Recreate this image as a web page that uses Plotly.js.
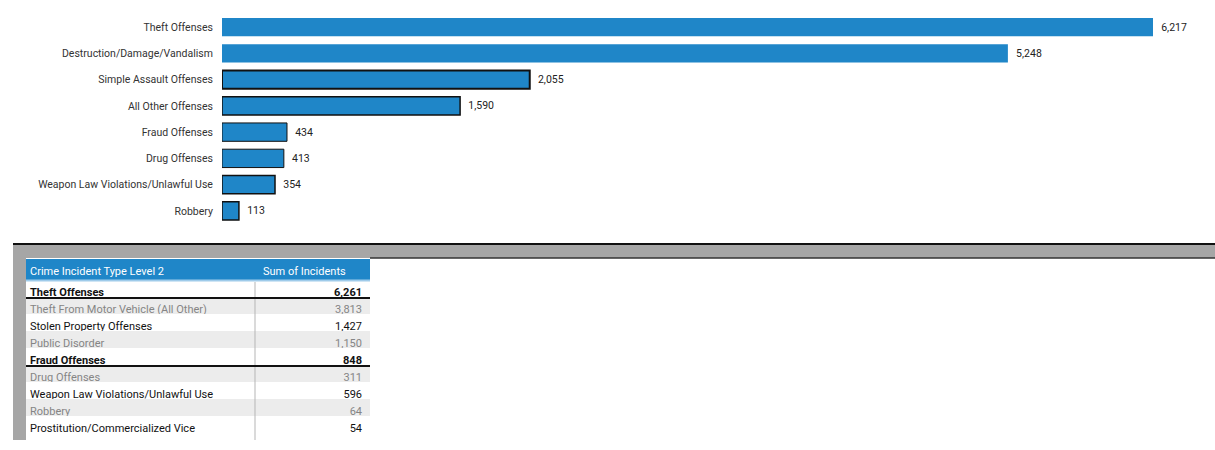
<!DOCTYPE html>
<html><head><meta charset="utf-8">
<script src="https://cdn.plot.ly/plotly-3.0.1.min.js"></script>
<style>html,body{margin:0;padding:0;background:#fff}#chart{width:1215px;height:450px}</style>
</head><body><div id="chart"></div>
<script>
// ---- data ----
const categories = [
  "Theft Offenses",
  "Destruction/Damage/Vandalism",
  "Simple Assault Offenses",
  "All Other Offenses",
  "Fraud Offenses",
  "Drug Offenses",
  "Weapon Law Violations/Unlawful Use",
  "Robbery"
];
const barValues = [6217, 5248, 2055, 1590, 434, 413, 354, 113];

const tableHeader = ["Crime Incident Type Level 2", "Sum of Incidents"];
const tableTypes = [
  "Theft Offenses",
  "Theft From Motor Vehicle (All Other)",
  "Stolen Property Offenses",
  "Public Disorder",
  "Fraud Offenses",
  "Drug Offenses",
  "Weapon Law Violations/Unlawful Use",
  "Robbery",
  "Prostitution/Commercialized Vice"
];
const tableValues = [6261, 3813, 1427, 1150, 848, 311, 596, 64, 54];
const tableGroupRows = [true, false, false, false, true, false, false, false, false];
const tableDarkText = [true, false, true, false, true, false, true, false, true];

// ---- helpers ----
const W = 1215, H = 450;
const py = p => 1 - p / H;
const px = p => p / W;
const fmt = v => v.toLocaleString('en-US');

const BLUE = '#1f86c8';
const FONT = 'Roboto, "Open Sans", sans-serif';

// bar trace
const barTrace = {
  type: 'bar',
  orientation: 'h',
  x: barValues,
  y: categories,
  marker: {
    color: BLUE,
    line: { color: '#111', width: [0, 0, 2, 1.5, 1, 1, 1.5, 1.5] }
  },
  text: barValues.map(v => '\u00a0\u00a0' + fmt(v)),
  textposition: 'outside',
  cliponaxis: false,
  textfont: { family: FONT, size: 10.5, color: '#222' },
  hoverinfo: 'skip',
  xaxis: 'x', yaxis: 'y'
};

// table trace
const TABLE_L = 22, TABLE_R = 370;
const HEADER_TOP = 259, HEADER_H = 21, ROW_H = 17;
const tableBottom = HEADER_TOP + HEADER_H + ROW_H * tableTypes.length + 4;
const rowFill = tableTypes.map((_, i) => i % 2 === 1 ? '#ececec' : '#ffffff');
const rowFont = tableDarkText.map(d => d ? '#111' : '#858585');
const rowWeight = tableGroupRows.map(g => g ? 'bold' : 'normal');
const tableTrace = {
  type: 'table',
  domain: { x: [px(TABLE_L), px(TABLE_R)], y: [py(tableBottom), py(HEADER_TOP)] },
  columnwidth: [233, 115],
  header: {
    values: tableHeader,
    align: ['left', 'left'],
    height: HEADER_H,
    fill: { color: BLUE },
    line: { color: BLUE, width: 0 },
    font: { family: FONT, size: 11, color: '#fff' }
  },
  cells: {
    values: [tableTypes, tableValues.map(fmt)],
    align: ['left', 'right'],
    height: ROW_H,
    fill: { color: [rowFill, rowFill] },
    line: { color: 'rgba(0,0,0,0)', width: 0 },
    font: { family: FONT, size: 11, color: [rowFont, rowFont], weight: [rowWeight, rowWeight] }
  }
};

// decorative shapes (separator band, table rules)
const shapes = [
  { type: 'rect', xref: 'paper', yref: 'paper', x0: px(13), x1: 1, y0: py(258), y1: py(244), fillcolor: '#a6a6a6', line: { width: 0 }, layer: 'below' },
  { type: 'rect', xref: 'paper', yref: 'paper', x0: px(13), x1: px(26), y0: py(440), y1: py(258), fillcolor: '#a6a6a6', line: { width: 0 }, layer: 'above' },
  { type: 'line', xref: 'paper', yref: 'paper', x0: px(13), x1: 1, y0: py(244), y1: py(244), line: { color: '#111', width: 2 } },
  { type: 'line', xref: 'paper', yref: 'paper', x0: px(370), x1: 1, y0: py(258), y1: py(258), line: { color: '#333', width: 1.5 } },
  { type: 'line', xref: 'paper', yref: 'paper', x0: px(26), x1: px(TABLE_R), y0: py(HEADER_TOP + HEADER_H + 0.5), y1: py(HEADER_TOP + HEADER_H + 0.5), line: { color: '#9fcbea', width: 2 } },
  { type: 'line', xref: 'paper', yref: 'paper', x0: px(255), x1: px(255), y0: py(440), y1: py(HEADER_TOP + HEADER_H + 2), line: { color: '#b5b5b5', width: 1 } }
];
tableGroupRows.forEach((g, i) => {
  if (g) {
    const yb = HEADER_TOP + HEADER_H + ROW_H * (i + 1) + 1;
    shapes.push({ type: 'line', xref: 'paper', yref: 'paper', x0: px(26), x1: px(TABLE_R), y0: py(yb), y1: py(yb), line: { color: '#111', width: 2 } });
  }
});

const plotLeft = 222, plotRight = W;
const xMax = barValues[0] * (plotRight - plotLeft) / (1153 - plotLeft);

const layout = {
  width: W, height: H,
  margin: { l: 0, r: 0, t: 0, b: 0 },
  paper_bgcolor: '#fff', plot_bgcolor: '#fff',
  showlegend: false,
  bargap: 0.3,
  font: { family: FONT, size: 10.5, color: '#222' },
  xaxis: { domain: [px(plotLeft), 1], range: [0, xMax], visible: false, fixedrange: true },
  yaxis: {
    domain: [py(224), py(14)],
    autorange: 'reversed',
    showgrid: false, zeroline: false, showline: false,
    ticks: 'outside', ticklen: 6, tickcolor: 'rgba(0,0,0,0)',
    tickfont: { family: FONT, size: 10.5, color: '#333' },
    fixedrange: true
  },
  shapes: shapes
};

Plotly.newPlot('chart', [barTrace, tableTrace], layout, { displayModeBar: false, staticPlot: true });
</script>
</body></html>
